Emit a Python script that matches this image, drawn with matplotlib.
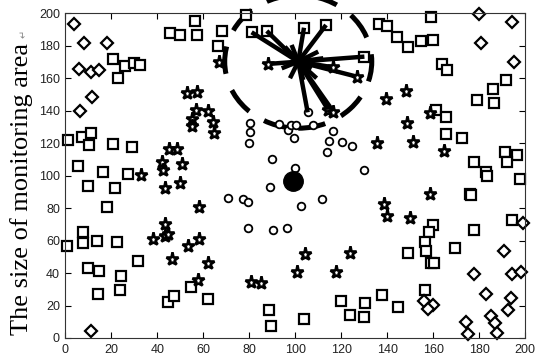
import matplotlib
matplotlib.use("Agg")
import matplotlib.pyplot as plt
from matplotlib.patches import Ellipse

# ── node positions ──
square_x = [20.5, 26.0, 22.9, 29.9, 32.4, 45.6, 49.8, 56.2, 57.1, 66.2, 68.3, 78.5, 81.0, 87.6,
            103.8, 113.4, 130.1, 159.1, 136.6, 140.1, 144.4, 148.9, 154.7, 159.8, 163.7, 166.2,
            191.6, 186.2, 179.2, 186.6, 161.3, 165.5, 165.5, 172.4, 177.8, 183.0, 183.6, 191.2,
            196.7, 192.0, 197.7, 176.1, 176.6, 194.5, 159.8, 177.6, 158.2, 156.5, 156.9, 158.9,
            160.4, 149.2, 169.5, 156.6, 137.8, 130.2, 144.9, 129.8, 62.0, 88.6, 89.4, 103.9,
            119.9, 123.7, 0.9, 7.0, 11.0, 10.1, 20.7, 29.1, 5.6, 16.5, 27.3, 9.9, 21.4, 18.2,
            7.6, 7.6, 0.5, 13.9, 22.2, 9.7, 14.7, 24.3, 31.5, 14.3, 23.6, 44.7, 47.2, 54.6]
square_y = [172.0, 167.5, 160.0, 169.6, 168.2, 188.0, 186.4, 195.4, 186.4, 180.0, 189.3, 199.2, 188.3, 189.1,
            191.1, 192.8, 173.3, 197.9, 193.4, 192.4, 185.6, 179.0, 182.9, 183.6, 168.8, 164.9,
            158.7, 153.2, 146.6, 144.6, 140.4, 136.3, 125.7, 123.4, 108.2, 102.4, 100.0, 114.6,
            112.5, 108.2, 97.9, 88.7, 88.3, 72.7, 69.6, 66.3, 65.5, 58.9, 53.8, 46.4,
            46.4, 52.2, 55.2, 29.4, 26.7, 21.7, 18.9, 13.1, 24.2, 17.2, 7.4, 11.9,
            22.6, 14.2, 122.0, 124.0, 126.1, 118.9, 119.3, 117.6, 105.9, 102.2, 101.2, 93.6, 92.2, 80.5,
            65.3, 58.7, 56.7, 59.7, 59.3, 42.9, 41.3, 38.4, 47.4, 27.1, 29.4, 22.4, 25.9, 31.2]

diamond_x = [3.7, 8.2, 17.9, 6.0, 11.0, 14.4, 11.5, 6.2, 11.1, 180.1, 194.5, 180.7, 195.2, 199.3,
             177.7, 190.7, 194.5, 198.3, 182.9, 193.9, 192.6, 156.2, 160.1, 157.6, 185.2, 186.9,
             174.3, 175.1, 188.0]
diamond_y = [193.2, 181.5, 181.5, 165.7, 163.6, 164.9, 148.6, 139.8, 4.5, 199.6, 194.6, 181.9, 170.2, 71.0,
             39.4, 53.4, 39.2, 40.5, 26.9, 24.6, 17.2, 22.6, 20.5, 18.0, 13.6, 9.4,
             10.0, 2.5, 2.9]

star_x = [52.8, 57.4, 56.7, 62.0, 67.0, 64.3, 55.2, 55.2, 64.6, 45.2, 48.4, 42.1, 42.6, 50.7,
          32.9, 43.4, 49.7, 58.0, 43.1, 38.3, 43.3, 44.4, 46.3, 53.3, 58.0, 57.5, 62.0, 80.6,
          85.1, 100.6, 104.4, 117.6, 124.0, 88.3, 116.6, 126.7, 114.4, 116.6, 148.2, 139.5,
          158.7, 148.8, 135.7, 151.1, 164.9, 158.7, 138.6, 140.1, 149.9]
star_y = [151.1, 151.5, 140.4, 139.8, 169.7, 132.9, 135.0, 130.8, 126.1, 116.4, 116.4, 108.6, 103.5, 107.0,
          100.4, 92.4, 95.7, 80.5, 70.2, 60.8, 63.0, 63.9, 48.8, 56.5, 61.2, 35.7, 46.0, 34.7,
          33.7, 40.5, 51.7, 40.8, 52.5, 168.8, 166.7, 161.0, 140.4, 139.4, 152.3, 147.0,
          138.8, 132.6, 119.9, 120.9, 115.2, 88.7, 82.5, 75.1, 73.7]

circle_x = [80.3, 80.3, 79.9, 93.1, 97.0, 98.0, 100.3, 99.6, 107.6, 105.4, 116.3, 114.7, 120.3,
            124.6, 113.8, 89.9, 100.0, 89.0, 129.9, 70.6, 77.4, 79.6, 111.6, 102.4, 79.5, 90.2, 96.3]
circle_y = [132.2, 126.7, 120.3, 131.8, 128.1, 131.2, 131.2, 123.4, 131.2, 139.0, 127.5, 121.5, 120.5,
            118.3, 114.6, 110.4, 104.5, 93.2, 103.5, 86.4, 85.8, 84.0, 85.8, 81.5, 67.5, 66.7, 67.6]

sink = (98.9, 96.9)
head = (101.3, 170.2)
# nodes linked to the cluster head
link_x = [81.0, 87.6, 103.8, 113.4, 130.1, 88.3, 116.6, 126.7, 114.4, 116.6, 105.4,
          95.5, 98.4, 110.0, 112.2, 94.1, 103.5, 109.3, 97.7, 107.2]
link_y = [188.3, 189.1, 191.1, 192.8, 173.3, 168.8, 166.7, 161.0, 140.4, 139.4, 139.0,
          179.4, 180.5, 176.4, 172.3, 166.1, 158.9, 160.0, 160.0, 166.1]
range_w, range_h = 64, 82

fig = plt.figure(figsize=(5.36, 3.56), dpi=100)
ax = fig.add_axes([0.1222, 0.0506, 0.8573, 0.9121])

mk = dict(linestyle="none", markeredgecolor="black", markerfacecolor="white", clip_on=False)
ax.plot(square_x, square_y, marker="s", markersize=7.2, markeredgewidth=1.6, **mk)
ax.plot(diamond_x, diamond_y, marker="D", markersize=6, markeredgewidth=1.6, **mk)
ax.plot(circle_x, circle_y, marker="o", markersize=5.5, markeredgewidth=1.3, **mk)

for lx, ly in zip(link_x, link_y):
    ax.plot([head[0], lx], [head[1], ly], color="black", lw=3.2, solid_capstyle="butt")

ax.plot(star_x, star_y, marker="*", markersize=9.5, markeredgewidth=1.9, **mk)
ax.plot(*sink, marker="o", markersize=14, color="black", clip_on=False)

ax.add_patch(Ellipse(head, range_w, range_h, fill=False, edgecolor="black", lw=3.6,
                     linestyle=(0, (5.5, 3.5)), clip_on=False))

ax.set_xlim(0, 200)
ax.set_ylim(0, 200)
ax.set_xticks(range(0, 201, 20))
ax.set_yticks(range(0, 201, 20))
ax.tick_params(direction="in", top=True, right=True, length=4, labelsize=9,
               labelcolor="#222222", pad=4)
for lab in ax.get_xticklabels() + ax.get_yticklabels():
    lab.set_family("Liberation Sans")
for s in ax.spines.values():
    s.set_linewidth(0.8)
    s.set_color("#333333")

fig.text(0.040, 0.468, "The size of monitoring area", rotation=90, ha="center", va="center",
         fontsize=19, family=["Liberation Serif", "DejaVu Serif"])
fig.text(0.045, 0.905, "\u21b5", rotation=90, ha="center", va="center", fontsize=7,
         color="#888888", family=["DejaVu Sans"])

fig.savefig("out.png", dpi=100)
